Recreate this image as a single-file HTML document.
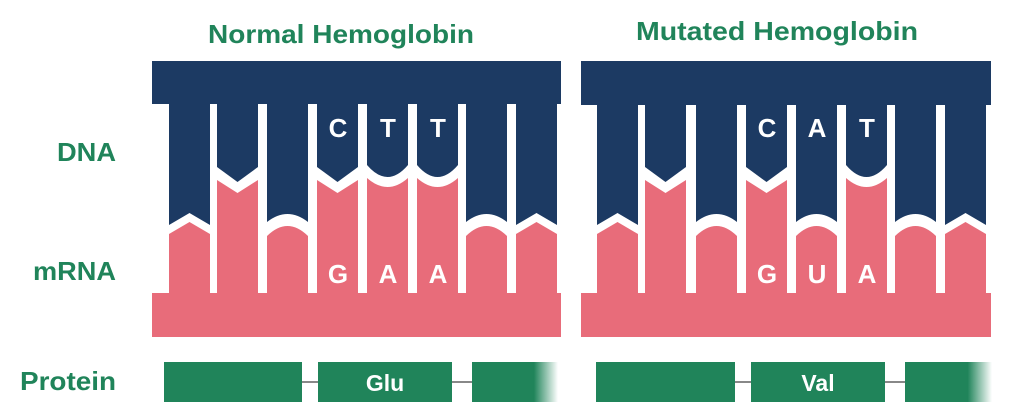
<!DOCTYPE html>
<html><head><meta charset="utf-8"><style>
html,body{margin:0;padding:0;background:#fff;}
svg{display:block}
text{font-family:"Liberation Sans",Arial,sans-serif;font-weight:bold;}
</style></head><body>
<svg width="1024" height="417" viewBox="0 0 1024 417" xmlns="http://www.w3.org/2000/svg">
<defs>
<linearGradient id="fl" x1="472" x2="558" y1="0" y2="0" gradientUnits="userSpaceOnUse"><stop offset="0.72" stop-color="#20845a"/><stop offset="1" stop-color="#20845a" stop-opacity="0"/></linearGradient>
<linearGradient id="fr" x1="905" x2="992" y1="0" y2="0" gradientUnits="userSpaceOnUse"><stop offset="0.72" stop-color="#20845a"/><stop offset="1" stop-color="#20845a" stop-opacity="0"/></linearGradient>
</defs>
<g fill="#20845a">
<text x="341" y="43" text-anchor="middle" font-size="26" textLength="266" lengthAdjust="spacingAndGlyphs">Normal Hemoglobin</text>
<text x="777" y="40" text-anchor="middle" font-size="26" textLength="282" lengthAdjust="spacingAndGlyphs">Mutated Hemoglobin</text>
<text x="116" y="161" text-anchor="end" font-size="26" textLength="59" lengthAdjust="spacingAndGlyphs">DNA</text>
<text x="116" y="280" text-anchor="end" font-size="26" textLength="83" lengthAdjust="spacingAndGlyphs">mRNA</text>
<text x="116" y="390" text-anchor="end" font-size="26" textLength="96" lengthAdjust="spacingAndGlyphs">Protein</text>
</g>
<rect x="152" y="61" width="409" height="43" fill="#1c3a63"/>
<rect x="581" y="61" width="410" height="44" fill="#1c3a63"/>
<rect x="152" y="293" width="409" height="44" fill="#e86c7a"/>
<rect x="581" y="293" width="410" height="44" fill="#e86c7a"/>
<g fill="#1c3a63">
<path d="M169 104V225L189.5 213L210 225V104Z"/>
<path d="M217 104V167L237.5 182L258 167V104Z"/>
<path d="M267 104V222Q287.5 206 308 222V104Z"/>
<path d="M317 104V167L337.5 182L358 167V104Z"/>
<path d="M367 104V165Q387.5 189 408 165V104Z"/>
<path d="M417 104V165Q437.5 189 458 165V104Z"/>
<path d="M466 104V222Q486.5 206 507 222V104Z"/>
<path d="M516 104V225L536.5 213L557 225V104Z"/>
<path d="M597 104V225L617.5 213L638 225V104Z"/>
<path d="M645 104V167L665.5 182L686 167V104Z"/>
<path d="M696 104V222Q716.5 206 737 222V104Z"/>
<path d="M746 104V167L766.5 182L787 167V104Z"/>
<path d="M796 104V222Q816.5 206 837 222V104Z"/>
<path d="M846 104V165Q866.5 189 887 165V104Z"/>
<path d="M895 104V222Q915.5 206 936 222V104Z"/>
<path d="M945 104V225L965.5 213L986 225V104Z"/>
</g>
<g fill="#e86c7a">
<path d="M169 293V234L189.5 222L210 234V293Z"/>
<path d="M217 293V180L237.5 193L258 180V293Z"/>
<path d="M267 293V236Q287.5 216 308 236V293Z"/>
<path d="M317 293V180L337.5 193L358 180V293Z"/>
<path d="M367 293V178Q387.5 196 408 178V293Z"/>
<path d="M417 293V178Q437.5 196 458 178V293Z"/>
<path d="M466 293V236Q486.5 216 507 236V293Z"/>
<path d="M516 293V234L536.5 222L557 234V293Z"/>
<path d="M597 293V234L617.5 222L638 234V293Z"/>
<path d="M645 293V180L665.5 193L686 180V293Z"/>
<path d="M696 293V236Q716.5 216 737 236V293Z"/>
<path d="M746 293V180L766.5 193L787 180V293Z"/>
<path d="M796 293V236Q816.5 216 837 236V293Z"/>
<path d="M846 293V178Q866.5 196 887 178V293Z"/>
<path d="M895 293V236Q915.5 216 936 236V293Z"/>
<path d="M945 293V234L965.5 222L986 234V293Z"/>
</g>
<g fill="#fff" font-size="26" text-anchor="middle">
<text x="338" y="137">C</text><text x="388" y="137">T</text><text x="438" y="137">T</text>
<text x="338" y="283">G</text><text x="388" y="283">A</text><text x="438" y="283">A</text>
<text x="767" y="137">C</text><text x="817" y="137">A</text><text x="867" y="137">T</text>
<text x="767" y="283">G</text><text x="817" y="283">U</text><text x="867" y="283">A</text>
</g>
<g stroke="#888" stroke-width="2">
<line x1="302" y1="382" x2="318" y2="382"/><line x1="452" y1="382" x2="472" y2="382"/>
<line x1="735" y1="382" x2="751" y2="382"/><line x1="885" y1="382" x2="905" y2="382"/>
</g>
<g fill="#20845a">
<rect x="164" y="362" width="138" height="40"/>
<rect x="318" y="362" width="134" height="40"/>
<rect x="596" y="362" width="139" height="40"/>
<rect x="751" y="362" width="134" height="40"/>
</g>
<rect x="472" y="362" width="86" height="40" fill="url(#fl)"/>
<rect x="905" y="362" width="87" height="40" fill="url(#fr)"/>
<g fill="#fff" font-size="23" text-anchor="middle">
<text x="385" y="391">Glu</text><text x="818" y="391">Val</text>
</g>
</svg>
</body></html>
